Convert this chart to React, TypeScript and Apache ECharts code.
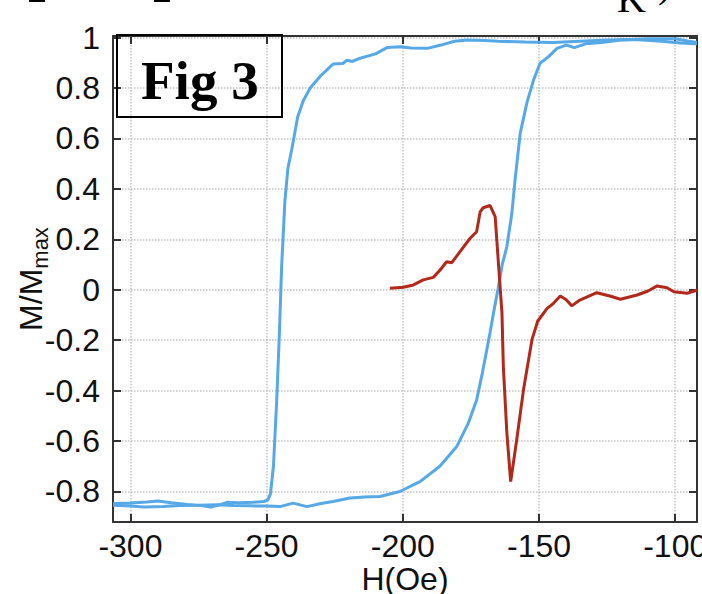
import React, { useEffect, useRef } from "react";
import * as echarts from "echarts";

const xTicks = [-300, -250, -200, -150, -100];
const yTicks = [-0.8, -0.6, -0.4, -0.2, 0, 0.2, 0.4, 0.6, 0.8, 1];

// Branch switching near -248 Oe
const branchAX = [-306.4, -300, -294, -290, -285, -279, -274, -270.5, -267, -264.5, -260, -255, -251, -249.5, -248.6, -247.5, -246.3, -245.3, -244.5, -243.3, -242.2, -240.8, -238.6, -236.5, -234, -230, -225.6, -222, -220.5, -218.5, -215.7, -210, -205.8, -201, -197, -191, -186, -181, -176.4, -170, -165, -155, -145, -135, -125, -115, -105, -98, -92];
const branchAY = [-0.848, -0.846, -0.842, -0.838, -0.845, -0.852, -0.856, -0.862, -0.852, -0.843, -0.845, -0.843, -0.84, -0.832, -0.81, -0.7, -0.44, -0.17, 0.09, 0.35, 0.48, 0.555, 0.685, 0.75, 0.8, 0.85, 0.895, 0.897, 0.91, 0.905, 0.918, 0.935, 0.96, 0.963, 0.958, 0.957, 0.97, 0.985, 0.99, 0.988, 0.985, 0.982, 0.98, 0.985, 0.99, 0.992, 0.985, 0.978, 0.975];

// Branch switching near -165 Oe
const branchBX = [-306.4, -300, -295, -288, -282, -275, -268, -262, -256, -250, -245.1, -240.3, -235.2, -230, -225.6, -219.4, -214, -208.4, -201.1, -193.7, -186.4, -180.2, -176, -172.9, -170.8, -168, -166.5, -165, -163.5, -161.8, -160, -158.8, -156.9, -154.5, -152, -149.6, -146.5, -143.4, -140, -137, -133, -127, -120, -110, -100, -95, -92];
const branchBY = [-0.855, -0.858, -0.862, -0.86, -0.856, -0.855, -0.853, -0.856, -0.857, -0.858, -0.86, -0.846, -0.86, -0.848, -0.84, -0.826, -0.822, -0.82, -0.8, -0.761, -0.7, -0.622, -0.53, -0.437, -0.33, -0.172, -0.08, 0.006, 0.1, 0.171, 0.3, 0.435, 0.62, 0.739, 0.832, 0.898, 0.924, 0.957, 0.97, 0.96, 0.975, 0.98, 0.99, 0.995, 0.995, 0.985, 0.98];

// Difference signal (red)
const redX = [-204.7, -199.8, -196.1, -192.5, -188.8, -186.3, -183.9, -182.0, -179.0, -175.3, -172.9, -171.6, -170.5, -168.0, -166.1, -164.9, -163.6, -163.1, -161.8, -160.4, -158.2, -155.7, -152.6, -150.5, -147.1, -144.7, -142.2, -140, -138.0, -135.0, -128.8, -124, -120.1, -114.0, -110, -106.6, -103, -100.5, -95.6, -91.9];
const redY = [0.006, 0.01, 0.019, 0.039, 0.049, 0.078, 0.111, 0.107, 0.151, 0.204, 0.23, 0.309, 0.325, 0.334, 0.29, 0.105, -0.093, -0.305, -0.569, -0.761, -0.596, -0.397, -0.199, -0.125, -0.075, -0.054, -0.025, -0.04, -0.064, -0.041, -0.012, -0.025, -0.038, -0.021, -0.005, 0.015, 0.008, -0.008, -0.014, -0.001];

const X_MIN = -306.4;
const X_MAX = -92;
const Y_MIN = -0.921;
const Y_MAX = 1.006;

const pairs = (xs: number[], ys: number[]) => xs.map((x, i) => [x, ys[i]]);

export default function App() {
  const ref = useRef<HTMLDivElement>(null);
  useEffect(() => {
    const chart = echarts.init(ref.current!, null, { renderer: "svg" });
    const axisColor = "#333";
    const font = "'Liberation Sans', Arial, Helvetica, sans-serif";
    const serif = "'Liberation Serif', 'Times New Roman', serif";
    chart.setOption({
      animation: false,
      backgroundColor: "#fff",
      grid: { left: 113, right: 5, top: 36, bottom: 72, containLabel: false, outerBoundsMode: "none" },
      xAxis: [
        {
          type: "value",
          position: "bottom",
          min: X_MIN,
          max: X_MAX,
          name: "H(Oe)",
          nameLocation: "middle",
          nameGap: 41,
          nameMoveOverlap: false,
          nameTextStyle: { fontSize: 32, color: "#111", fontFamily: font },
          axisLine: { show: true, onZero: false, lineStyle: { color: axisColor, width: 2 } },
          axisTick: { show: true, inside: true, length: 8, customValues: xTicks, lineStyle: { color: axisColor, width: 2 } },
          axisLabel: { customValues: xTicks, fontSize: 32, color: "#111", margin: 8, fontFamily: font },
          splitLine: { show: true, lineStyle: { type: "dotted", color: "#c4c4c4", width: 1.5 } },
        },
        {
          type: "value",
          position: "top",
          min: X_MIN,
          max: X_MAX,
          axisLine: { show: true, onZero: false, lineStyle: { color: axisColor, width: 2 } },
          axisTick: { show: true, inside: true, length: 8, customValues: xTicks, lineStyle: { color: axisColor, width: 2 } },
          axisLabel: { show: false },
          splitLine: { show: false },
        },
      ],
      yAxis: [
        {
          type: "value",
          position: "left",
          min: Y_MIN,
          max: Y_MAX,
          axisLine: { show: true, onZero: false, lineStyle: { color: axisColor, width: 2 } },
          axisTick: { show: true, inside: true, length: 8, customValues: yTicks, lineStyle: { color: axisColor, width: 2 } },
          axisLabel: { customValues: yTicks, fontSize: 32, color: "#111", margin: 13, fontFamily: font },
          splitLine: { show: true, lineStyle: { type: "dotted", color: "#c4c4c4", width: 1.5 } },
        },
        {
          type: "value",
          position: "right",
          min: Y_MIN,
          max: Y_MAX,
          axisLine: { show: true, onZero: false, lineStyle: { color: axisColor, width: 2 } },
          axisTick: { show: true, inside: true, length: 8, customValues: yTicks, lineStyle: { color: axisColor, width: 2 } },
          axisLabel: { show: false },
          splitLine: { show: false },
        },
      ],
      series: [
        {
          type: "line",
          data: pairs(branchAX, branchAY),
          showSymbol: false,
          lineStyle: { color: "#56a8e6", width: 3 },
          xAxisIndex: 0,
          yAxisIndex: 0,
        },
        {
          type: "line",
          data: pairs(branchBX, branchBY),
          showSymbol: false,
          lineStyle: { color: "#56a8e6", width: 3 },
          xAxisIndex: 0,
          yAxisIndex: 0,
        },
        {
          type: "line",
          data: pairs(redX, redY),
          showSymbol: false,
          lineStyle: { color: "#b2281a", width: 3 },
          xAxisIndex: 0,
          yAxisIndex: 0,
        },
      ],
      graphic: [
        {
          type: "text",
          x: 31,
          y: 279,
          rotation: Math.PI / 2,
          style: {
            text: "{a|M/M}{b|max}",
            align: "center",
            verticalAlign: "middle",
            rich: {
              a: { fontSize: 32, fill: "#111", fontFamily: font, lineHeight: 40 },
              b: { fontSize: 22, fill: "#111", fontFamily: font, lineHeight: 22, verticalAlign: "bottom" },
            },
          },
        },
        { type: "rect", shape: { x: 117, y: 35, width: 165, height: 82 }, style: { fill: "none", stroke: "#000", lineWidth: 2 }, z: 100 },
        {
          type: "text",
          x: 141,
          y: 80,
          z: 100,
          style: { text: "Fig 3", fontSize: 55, fontWeight: "bold", fontFamily: serif, fill: "#000", verticalAlign: "middle", align: "left" },
        },
        {
          type: "text",
          x: 617,
          y: -2,
          style: { text: "K", fontSize: 40, fontFamily: serif, fill: "#000", verticalAlign: "middle", align: "left" },
        },
        {
          type: "text",
          x: 658,
          y: -17,
          style: { text: ")", fontSize: 40, fontFamily: serif, fill: "#000", verticalAlign: "middle", align: "left" },
        },
        { type: "rect", shape: { x: 29, y: 0, width: 16, height: 2 }, style: { fill: "#000" } },
        { type: "rect", shape: { x: 154, y: 0, width: 16, height: 2 }, style: { fill: "#000" } },
      ],
    });
    return () => chart.dispose();
  }, []);
  return <div ref={ref} style={{ position: "fixed", left: 0, top: 0, width: 702, height: 594, background: "#fff" }} />;
}
